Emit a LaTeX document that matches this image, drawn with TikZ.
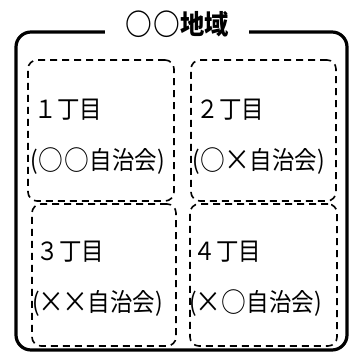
\documentclass[tikz,border=0pt]{standalone}
\usepackage{fontspec}
\setmainfont{Noto Sans CJK JP}[FakeStretch=0.9]
\newcommand\maru{\makebox[1.03em]{\raisebox{-0.04em}{\scalebox{1.1}{○}}}}
\newcommand\batsu{\makebox[0.95em]{\raisebox{-0.04em}{\scalebox{1.15}{×}}}}
\usetikzlibrary{positioning}

\begin{document}
\begin{tikzpicture}[x=1pt,y=1pt,
        area/.style={draw=black,line width=3.2pt,rounded corners=15pt},
        areatitle/.style={fill=white,inner xsep=20pt,inner ysep=4pt,font=\fontsize{27}{27}\selectfont\bfseries},
        district/.style={draw=black,line width=1.6pt,dash pattern=on 7pt off 5pt,rounded corners=9pt},
        townname/.style={anchor=west,inner sep=0pt,align=left,font=\fontsize{25}{51}\selectfont}]
                \useasboundingbox (0,0) rectangle (352,356);
                \draw[area] (16,6) rectangle (347,324);
                \node[areatitle](title)at(177, 332){\maru\maru 地域};
                \node[district,minimum width=146pt,minimum height=141pt](d1)at(101, 225.5){};
                \node[district,minimum width=145pt,minimum height=141pt](d2)at(263.5, 225.5){};
                \node[district,minimum width=144pt,minimum height=142pt](d3)at(104, 81){};
                \node[district,minimum width=147pt,minimum height=142pt](d4)at(263.5, 81){};
                \node[townname](t1)at([xshift=3pt,yshift=-6pt]d1.west){\,１丁目\\(\maru\maru 自治会)};
                \node[townname](t2)at([xshift=2pt,yshift=-6pt]d2.west){\,２丁目\\(\maru\batsu 自治会)};
                \node[townname](t3)at([xshift=1pt,yshift=-4pt]d3.west){\,３丁目\\(\batsu\batsu 自治会)};
                \node[townname](t4)at([xshift=0pt,yshift=-4pt]d4.west){\,４丁目\\(\batsu\maru 自治会)};
            \end{tikzpicture}
\end{document}
